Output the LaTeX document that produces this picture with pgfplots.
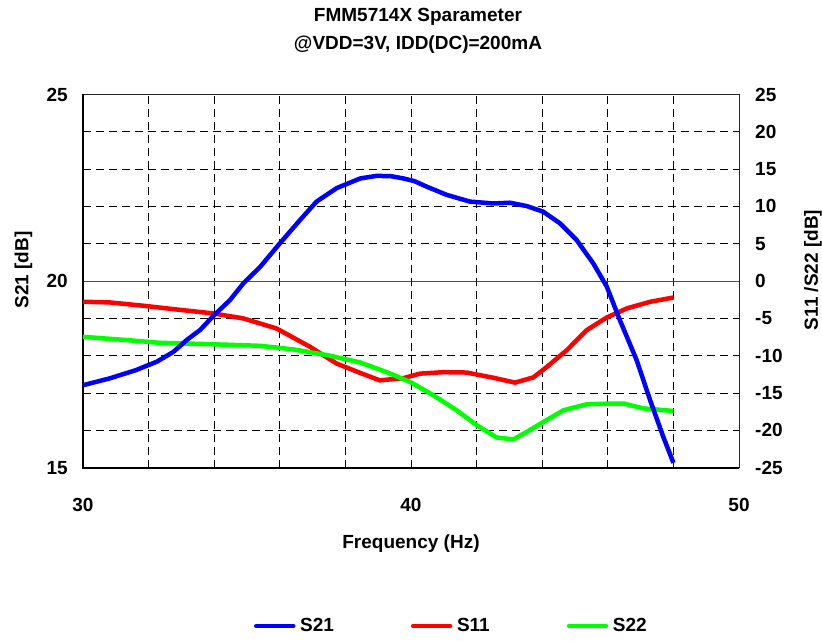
\documentclass[border=0pt]{standalone}
\usepackage{fontspec}
\setmainfont{Liberation Sans}
\usepackage{pgfplots}
\pgfplotsset{compat=1.18}
\definecolor{cblue}{RGB}{0,0,255}
\definecolor{cred}{RGB}{255,0,0}
\definecolor{cgreen}{RGB}{0,255,0}
\newcommand\lf{\fontsize{19}{22}\selectfont\bfseries}
\begin{document}
\begin{tikzpicture}
\path[use as bounding box] (-83pt,-172.3pt) rectangle (739pt,467.7pt);
\begin{axis}[
  at={(0pt,0pt)}, anchor=south west, scale only axis,
  width=656pt, height=373.2pt,
  xmin=30, xmax=50, ymin=15, ymax=25,
  xtick={30,32,...,50}, xticklabels={30,,,,,40,,,,,50},
  ytick={15,16,17,18,19,21,22,23,24,25}, yticklabels={15,,,,,,,,,25},
  extra y ticks={20}, extra y tick labels={20},
  extra y tick style={major grid style={solid, black!70, line width=0.9pt}},
  major tick length=0pt,
  xmajorgrids, ymajorgrids,
  major grid style={black, line width=0.75pt, dash pattern=on 8pt off 5pt},
  axis line style={black!85, line width=0.9pt},
  tick label style={font=\lf, inner sep=0pt},
  xticklabel style={anchor=base, yshift=-44pt},
  yticklabel style={anchor=east, xshift=-15pt},
  /pgf/number format/assume math mode=true,
  clip=false,
]
\draw[black, line width=2.2pt] (rel axis cs:0,1) -- (rel axis cs:0,0) -- (rel axis cs:1,0);
\end{axis}
\begin{axis}[
  at={(0pt,0pt)}, anchor=south west, scale only axis,
  width=656pt, height=373.2pt,
  xmin=30, xmax=50, ymin=-25, ymax=25,
  hide x axis, axis y line*=right,
  ytick={-25,-20,...,25}, yticklabels={-25,-20,-15,-10,-5,0,5,10,15,20,25},
  major tick length=0pt,
  y axis line style={black!85, line width=0.9pt},
  yticklabel style={font=\lf, inner sep=0pt, anchor=west, xshift=16pt},
  /pgf/number format/assume math mode=true,
  legend columns=3,
  legend style={at={(0.2607,-0.4242)}, anchor=west, draw=none, fill=none,
    inner sep=0pt, outer sep=0pt, font=\lf,
    nodes={inner sep=0pt},
    /tikz/every odd column/.append style={column sep=4.6pt},
    /tikz/every even column/.append style={column sep=77pt}},
  legend image code/.code={\draw[#1, line cap=round] (0pt,0pt) -- (37pt,0pt);},
]
\addlegendimage{cblue, line width=4.5pt}
\addlegendentry{S21}
\addplot[cred, line width=4.5pt, line join=round] table {
30.0 -2.77
30.8 -2.85
31.84 -3.3
32.85 -3.8
33.97 -4.33
34.89 -5.0
35.9 -6.35
36.92 -8.8
37.73 -11.04
38.45 -12.3
39.05 -13.3
39.77 -13.0
40.27 -12.4
40.99 -12.2
41.70 -12.25
42.51 -12.95
43.17 -13.6
43.73 -12.9
44.14 -11.5
44.75 -9.25
45.36 -6.56
45.97 -4.87
46.58 -3.66
47.29 -2.77
48.0 -2.2
};
\addlegendentry{S11}
\addplot[cgreen, line width=4.5pt, line join=round] table {
30.0 -7.47
31.33 -7.9
32.35 -8.27
33.87 -8.45
35.40 -8.67
36.41 -9.15
37.43 -9.9
38.45 -10.9
39.26 -12.2
39.97 -13.5
40.68 -15.3
41.39 -17.3
42.0 -19.3
42.61 -20.95
43.12 -21.2
43.53 -20.2
44.14 -18.6
44.65 -17.3
45.36 -16.5
46.17 -16.4
46.48 -16.4
47.08 -17.05
48.0 -17.4
};
\addlegendentry{S22}
\end{axis}
\begin{axis}[
  at={(0pt,0pt)}, anchor=south west, scale only axis,
  width=656pt, height=373.2pt,
  xmin=30, xmax=50, ymin=15, ymax=25,
  hide axis,
]
\addplot[cblue, line width=4.5pt, line join=round] table {
30.0 17.21
30.8 17.39
31.6 17.61
32.25 17.84
32.75 18.10
33.16 18.42
33.57 18.69
34.0 19.09
34.48 19.49
34.89 19.94
35.40 20.38
36.0 21.01
36.62 21.64
37.12 22.13
37.73 22.49
38.45 22.75
38.95 22.82
39.4 22.81
39.77 22.75
40.1 22.68
40.48 22.53
41.09 22.31
41.80 22.13
42.51 22.08
43.02 22.10
43.53 22.01
44.03 21.86
44.54 21.55
45.05 21.10
45.56 20.47
45.97 19.85
46.37 18.95
46.88 17.88
47.29 16.81
47.69 15.83
48.0 15.13
};
\end{axis}
\node[font=\lf, anchor=base] at (335pt,446pt) {FMM5714X Sparameter};
\node[font=\lf, anchor=base] at (335pt,418.4pt) {@VDD=3V, IDD(DC)=200mA};
\node[font=\lf, anchor=base] at (328pt,-80.3pt) {Frequency (Hz)};
\node[font=\lf, rotate=90] at (-59.5pt,197.7pt) {S21 [dB]};
\node[font=\lf, rotate=90] at (730pt,197.7pt) {S11 /S22 [dB]};
\end{tikzpicture}
\end{document}
